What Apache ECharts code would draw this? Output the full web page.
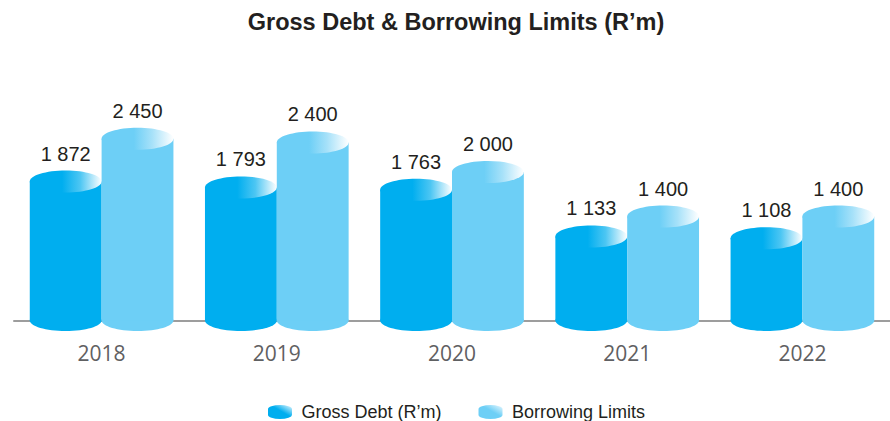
<!DOCTYPE html>
<html>
<head>
<meta charset="utf-8">
<script src="https://cdn.jsdelivr.net/npm/echarts@6/dist/echarts.min.js"></script>
<style>
html,body{margin:0;padding:0;background:#fff;}
#chart{width:890px;height:421px;}
</style>
</head>
<body>
<div id="chart"></div>
<script>
const categories = ['2018', '2019', '2020', '2021', '2022'];
const grossDebt = [1872, 1793, 1763, 1133, 1108];
const borrowingLimits = [2450, 2400, 2000, 1400, 1400];
const seriesNames = ['Gross Debt (R\u2019m)', 'Borrowing Limits'];
const titleText = 'Gross Debt & Borrowing Limits (R\u2019m)';

const darkColor = '#00AEEF';
const lightColor = '#6DCFF6';

function fmt(v) {
  return String(v).replace(/\B(?=(\d{3})+(?!\d))/g, ' ');
}

function topGradient(c, mid) {
  return new echarts.graphic.LinearGradient(0, 0, 1, 0, [
    { offset: 0, color: c },
    { offset: 0.45, color: c },
    { offset: 0.7, color: mid },
    { offset: 1, color: '#ffffff' }
  ]);
}

function legendGradient(c) {
  return new echarts.graphic.LinearGradient(0, 1, 1, 0, [
    { offset: 0, color: c },
    { offset: 0.55, color: c },
    { offset: 1, color: '#eaf8fe' }
  ]);
}

function makeRender(side, color, mid) {
  return function (params, api) {
    const ci = api.value(0);
    const v = api.value(1);
    const catW = api.size([1, 0])[0];
    const bw = catW * 0.41;
    const base = api.coord([ci, 0]);
    const top = api.coord([ci, v]);
    const cx = base[0] + side * bw / 2;
    const ry = 11;
    return {
      type: 'group',
      children: [
        { type: 'ellipse', shape: { cx: cx, cy: base[1], rx: bw / 2, ry: ry - 0.5 }, style: { fill: color } },
        { type: 'rect', shape: { x: cx - bw / 2, y: top[1], width: bw, height: base[1] - top[1] }, style: { fill: color } },
        { type: 'ellipse', shape: { cx: cx, cy: top[1], rx: bw / 2, ry: ry }, style: { fill: topGradient(color, mid) } },
        { type: 'text', style: {
            text: fmt(v), x: cx, y: top[1] - ry - 17, align: 'center', verticalAlign: 'middle',
            fontSize: 20, fontFamily: 'Liberation Sans, Arial, sans-serif', fill: '#231f20'
          } }
      ]
    };
  };
}

const chart = echarts.init(document.getElementById('chart'), null, { renderer: 'svg' });
chart.setOption({
  animation: false,
  backgroundColor: '#ffffff',
  title: {
    text: titleText,
    left: 456,
    textAlign: 'center',
    top: 10,
    padding: 0,
    textStyle: { fontSize: 23.5, fontWeight: 'bold', fontFamily: 'Liberation Sans, Arial, sans-serif', color: '#231f20' }
  },
  legend: {
    left: 268,
    top: 403,
    padding: 0,
    itemWidth: 25,
    itemHeight: 14,
    itemGap: 37,
    icon: 'path://M0,4 A12,4 0 0 1 24,4 L24,10 A12,4 0 0 1 0,10 Z',
    textStyle: { fontSize: 18, fontFamily: 'Liberation Sans, Arial, sans-serif', color: '#231f20', padding: [0, 0, 0, 4] },
    data: [
      { name: seriesNames[0], itemStyle: { color: legendGradient(darkColor) } },
      { name: seriesNames[1], itemStyle: { color: legendGradient(lightColor) } }
    ]
  },
  grid: { left: 14, width: 881, top: 97.9, bottom: 100.5, containLabel: false },
  xAxis: {
    type: 'category',
    data: categories,
    offset: 1.5,
    axisLine: { lineStyle: { color: '#9d9d9d', width: 2 } },
    axisTick: { show: false },
    axisLabel: { color: '#5f6062', fontSize: 21, fontWeight: 500, fontFamily: 'Open Sans, sans-serif', margin: 20 }
  },
  yAxis: {
    type: 'value',
    min: 0,
    max: 3000,
    show: false,
    splitLine: { show: false }
  },
  series: [
    {
      name: seriesNames[0],
      type: 'custom',
      itemStyle: { color: darkColor },
      encode: { x: 0, y: 1 },
      data: grossDebt.map((v, i) => [i, v]),
      renderItem: makeRender(-1, darkColor, '#4cc6f3')
    },
    {
      name: seriesNames[1],
      type: 'custom',
      itemStyle: { color: lightColor },
      encode: { x: 0, y: 1 },
      data: borrowingLimits.map((v, i) => [i, v]),
      renderItem: makeRender(1, lightColor, '#a6e1f9')
    }
  ]
});
</script>
</body>
</html>
